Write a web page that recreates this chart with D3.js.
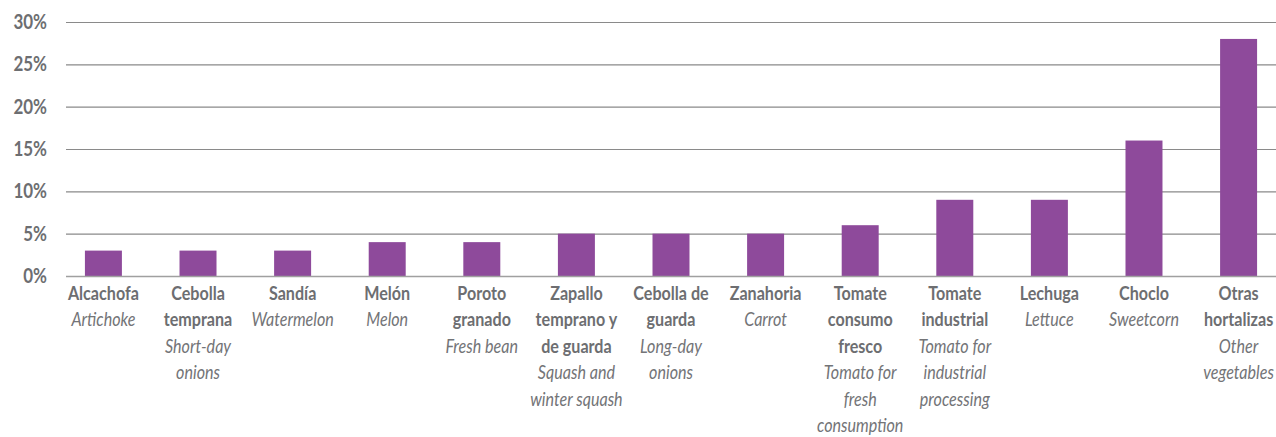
<!DOCTYPE html>
<html><head><meta charset="utf-8">
<script src="https://cdn.jsdelivr.net/npm/d3@7/dist/d3.min.js"></script>
<style>
body{margin:0;background:#fff;}
svg{display:block;font-family:"Lato","Open Sans",sans-serif;}
</style></head>
<body><svg id="c" width="1276" height="437"></svg>
<script>
const categories = ["Alcachofa","Cebolla temprana","Sandía","Melón","Poroto granado","Zapallo temprano y de guarda","Cebolla de guarda","Zanahoria","Tomate consumo fresco","Tomate industrial","Lechuga","Choclo","Otras hortalizas"];
const values = [3,3,3,4,4,5,5,5,6,9,9,16,28];
const spanishLines = [["Alcachofa"],["Cebolla","temprana"],["Sandía"],["Melón"],["Poroto","granado"],["Zapallo","temprano y","de guarda"],["Cebolla de","guarda"],["Zanahoria"],["Tomate","consumo","fresco"],["Tomate","industrial"],["Lechuga"],["Choclo"],["Otras","hortalizas"]];
const englishLines = [["Artichoke"],["Short-day","onions"],["Watermelon"],["Melon"],["Fresh bean"],["Squash and","winter squash"],["Long-day","onions"],["Carrot"],["Tomato for","fresh","consumption"],["Tomato for","industrial","processing"],["Lettuce"],["Sweetcorn"],["Other","vegetables"]];
const yTicks = [0,5,10,15,20,25,30];

const svg = d3.select("#c");
const x = d3.scaleBand().domain(categories).range([66,1276]).paddingInner(0.609).paddingOuter(0.2);
const y = d3.scaleLinear().domain([0,30]).range([276,22]);
const grey = "#6d6e71";
const fs = 19;

// calibrate a condensed look: measure bold "Alcachofa" and scale horizontally
const probe = svg.append("text").style("font-size",fs+"px").style("font-weight","bold").text("Alcachofa");
const sx = Math.min(1, 71 / probe.node().getComputedTextLength());
probe.remove();

// gridlines
svg.append("g").selectAll("line").data(yTicks.filter(d=>d>0)).join("line")
  .attr("x1",66).attr("x2",1276)
  .attr("y1",d=>y(d)+0.5).attr("y2",d=>y(d)+0.5)
  .attr("stroke","#8a8a8a").attr("stroke-width",1.2);

// y labels
svg.append("g").selectAll("text").data(yTicks).join("text")
  .attr("transform",d=>`translate(47,${y(d)}) scale(${sx},1)`)
  .attr("dy","0.35em")
  .attr("text-anchor","end").attr("fill",grey)
  .style("font-weight","bold").style("font-size","20px")
  .text(d=>d+"%");

// bars
svg.append("g").selectAll("rect").data(values).join("rect")
  .attr("x",(d,i)=>x(categories[i])).attr("width",x.bandwidth())
  .attr("y",d=>y(d)).attr("height",d=>y(0)-y(d))
  .attr("fill","#8e4a9b");

// baseline
svg.append("line").attr("x1",66).attr("x2",1276).attr("y1",y(0)+0.5).attr("y2",y(0)+0.5)
  .attr("stroke","#a0a0a0").attr("stroke-width",1.5);

// category labels
const lh = 26.5;
const lab = svg.append("g");
categories.forEach((c,i)=>{
  const cx = x(c)+x.bandwidth()/2;
  const t = lab.append("text").attr("text-anchor","middle").attr("fill",grey)
    .attr("transform",`translate(${cx},0) scale(${sx},1)`).style("font-size",fs+"px");
  let k = 0;
  spanishLines[i].forEach(s=>{
    t.append("tspan").attr("x",0).attr("y",300+k*lh).style("font-weight","bold").text(s); k++;
  });
  englishLines[i].forEach(s=>{
    t.append("tspan").attr("x",0).attr("y",300+k*lh).style("font-style","italic").style("font-weight","400").attr("fill","#737477").text(s); k++;
  });
});
</script></body></html>
